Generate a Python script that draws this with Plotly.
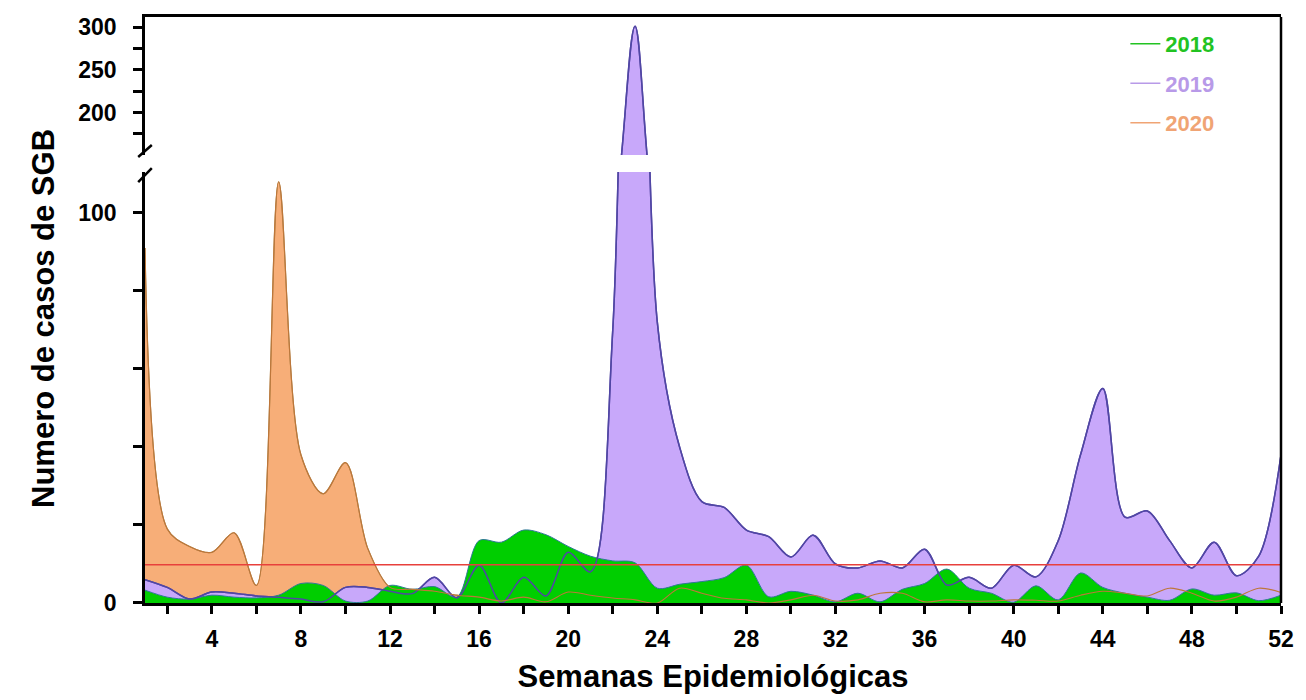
import plotly.graph_objects as go

# ---------------- data ----------------
weeks = list(range(1, 53))

cases_2018 = [3.3, 1.5, 1.0, 2.0, 1.5, 1.3, 2.0, 5.0, 4.5, 0.5,
              0.5, 4.5, 3.5, 4.2, 1.5, 16.0, 15.6, 18.7, 17.5, 14.5,
              12.0, 10.8, 10.3, 3.8, 4.8, 5.5, 6.5, 9.7, 1.6, 3.0,
              2.0, 0.3, 2.5, 0.3, 3.5, 5.0, 8.7, 3.8, 2.5, 0.2,
              4.4, 0.8, 7.7, 4.0, 2.5, 1.5, 0.7, 3.6, 2.0, 2.6,
              0.6, 2.0]

cases_2019 = [6.0, 4.0, 1.0, 2.8, 2.5, 1.8, 1.5, 1.0, 0.3, 4.0,
              4.0, 3.0, 2.4, 6.6, 1.3, 9.7, 0.0, 6.6, 1.8, 13.0,
              8.0, 70.0, 301.0, 72.0, 40.0, 26.0, 24.5, 18.7, 17.0, 11.8,
              17.4, 10.0, 9.0, 10.8, 9.0, 13.8, 4.6, 6.6, 3.8, 9.7,
              6.7, 16.0, 38.0, 55.0, 22.0, 23.6, 16.0, 9.0, 15.6, 7.0,
              12.0, 38.0]

cases_2020 = [91.0, 19.0, 14.5, 13.0, 18.0, 4.5, 108.0, 38.0, 28.0, 36.0,
              14.0, 4.0, 3.5, 3.0, 2.0, 1.5, 0.5, 1.5, 0.3, 2.8,
              2.0, 1.3, 0.8, 0.0, 3.8, 2.5, 1.2, 0.8, 0.0, 0.8,
              2.0, 0.5, 0.8, 2.5, 2.5, 0.3, 0.8, 0.5, 0.5, 0.8,
              0.7, 0.5, 2.0, 3.0, 2.5, 1.8, 3.8, 2.5, 0.5, 1.5,
              3.8, 2.7]

threshold = 9.8

x_tick_vals = list(range(2, 53, 2))
x_tick_text = [str(v) if v % 4 == 0 else "" for v in x_tick_vals]
y_low_ticks = [0, 20, 40, 60, 80, 100]
y_low_text = ["0", "", "", "", "", "100"]
y_high_ticks = [175, 200, 225, 250, 275, 300]
y_high_text = ["", "200", "", "250", "", "300"]

# ---------------- styles ----------------
FONT = "Liberation Sans, Arial, sans-serif"
fill_style = {
    "2020": dict(fill="rgb(247,174,120)", line="rgb(170,135,75)", lw=1.2),
    "2019": dict(fill="rgb(200,168,250)", line="rgb(88,72,160)", lw=1.5),
    "2018": dict(fill="rgb(0,206,0)", line="rgb(46,120,150)", lw=1.0),
}
legend_colors = {"2018": "#22c322", "2019": "#b89ae8", "2020": "#f0a474"}
series = {"2018": cases_2018, "2019": cases_2019, "2020": cases_2020}

fig = go.Figure()

# filled areas (back to front): 2020, 2019, 2018 in both y-segments
for name in ["2020", "2019", "2018"]:
    st = fill_style[name]
    for xa, ya in [("x", "y"), ("x2", "y2")]:
        fig.add_trace(go.Scatter(
            x=weeks, y=series[name], xaxis=xa, yaxis=ya,
            mode="lines", fill="tozeroy", fillcolor=st["fill"],
            line=dict(color=st["line"], width=st["lw"], shape="spline", smoothing=0.9),
            showlegend=False, hoverinfo="skip"))

# outlines drawn on top of fills
for name, col, lw in [("2019", "rgb(80,70,165)", 1.5), ("2020", "rgb(190,118,58)", 1.1)]:
    for xa, ya in [("x", "y"), ("x2", "y2")]:
        fig.add_trace(go.Scatter(
            x=weeks, y=series[name], xaxis=xa, yaxis=ya, mode="lines",
            line=dict(color=col, width=lw, shape="spline", smoothing=0.9),
            showlegend=False, hoverinfo="skip"))

# threshold line
fig.add_trace(go.Scatter(
    x=[weeks[0], weeks[-1]], y=[threshold, threshold], mode="lines",
    line=dict(color="rgb(232,64,60)", width=1.6), showlegend=False, hoverinfo="skip"))

# legend entries
for i, name in enumerate(["2018", "2019", "2020"]):
    fig.add_trace(go.Scatter(
        x=[None], y=[None], mode="lines", legendgroup=name,
        name=f'<span style="color:{legend_colors[name]}">{name}</span>',
        line=dict(color=legend_colors[name], width=1.5)))

low_top = 0.7355
high_bottom = 0.7645

axis_common = dict(showline=True, linecolor="black", linewidth=2.5,
                   showgrid=False, zeroline=False, ticks="outside",
                   tickcolor="black", tickwidth=2.5,
                   tickfont=dict(family=FONT, size=23, color="black", weight="bold"))

fig.update_layout(
    width=1306, height=700,
    margin=dict(l=145, r=17, t=17, b=97),
    paper_bgcolor="white", plot_bgcolor="white",
    font=dict(family=FONT),
    xaxis=dict(domain=[0, 1], range=[1, 52], anchor="y",
               tickmode="array", tickvals=x_tick_vals, ticktext=x_tick_text,
               ticklen=8, ticklabelstandoff=6,
               title=dict(text="Semanas Epidemiológicas", standoff=14,
                          font=dict(family=FONT, size=31, color="black", weight="bold")),
               **axis_common),
    xaxis2=dict(domain=[0, 1], range=[1, 52], anchor="y2", matches="x",
                side="top", showline=True, linecolor="black", linewidth=2.5,
                showticklabels=False, ticks="", showgrid=False, zeroline=False),
    yaxis=dict(domain=[0, low_top], range=[0, 110.5], anchor="x",
               tickmode="array", tickvals=y_low_ticks, ticktext=y_low_text,
               ticklen=9, ticklabelstandoff=12, **axis_common),
    yaxis2=dict(domain=[high_bottom, 1], range=[150.4, 311.7], anchor="x2",
                tickmode="array", tickvals=y_high_ticks, ticktext=y_high_text,
                ticklen=9, ticklabelstandoff=12, **axis_common),
    legend=dict(x=0.863, y=0.99, xanchor="left", yanchor="top",
                bgcolor="rgba(0,0,0,0)", tracegroupgap=8,
                font=dict(family=FONT, size=22, weight="bold")),
    annotations=[dict(text="Numero de casos de SGB", textangle=-90,
                      xref="paper", yref="paper", x=-0.09, y=0.486,
                      xanchor="center", yanchor="middle", showarrow=False,
                      font=dict(family=FONT, size=31, color="black", weight="bold"))],
    shapes=[
        dict(type="line", xref="paper", yref="paper", x0=1, x1=1, y0=0, y1=1,
             line=dict(color="black", width=2.5)),
        dict(type="line", xref="paper", yref="paper", x0=-0.006, x1=0.006,
             y0=0.761, y1=0.7816, line=dict(color="black", width=2.5)),
        dict(type="line", xref="paper", yref="paper", x0=-0.006, x1=0.006,
             y0=0.7184, y1=0.7423, line=dict(color="black", width=2.5)),
    ],
)

fig.write_html("out.html")
